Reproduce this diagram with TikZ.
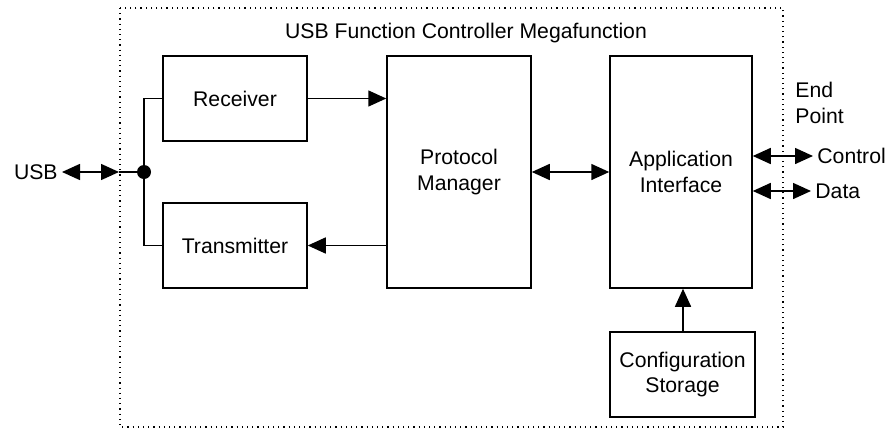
\documentclass[tikz,border=0pt]{standalone}
\usepackage{fontspec}
\setmainfont{Liberation Sans}
\usetikzlibrary{arrows.meta}
\begin{document}
\begin{tikzpicture}[x=0.5pt,y=-0.5pt,
  font=\fontsize{10.6}{12.6}\selectfont,
  blk/.style={draw,line width=0.75pt,align=center,inner sep=0pt},
  tip/.style={-{Triangle[length=9pt,width=8pt]}},
  dtip/.style={{Triangle[length=9pt,width=8pt]}-{Triangle[length=9pt,width=8pt]}},
  wire/.style={line width=0.75pt},
  lbl/.style={inner sep=2pt}]
\useasboundingbox (0,0) rectangle (892,439);
\draw[dotted,line width=0.6pt] (120,8) rectangle (783,427);
\node (title) at (466,33) {USB Function Controller Megafunction};
\node[blk,minimum width=72pt,minimum height=42.5pt] (rx) at (235,98.5) {Receiver};
\node[blk,minimum width=72pt,minimum height=42.5pt] (tx) at (235,245.5) {Transmitter};
\node[blk,minimum width=72pt,minimum height=116pt] (pm) at (459,172) {Protocol\\Manager};
\node[blk,minimum width=71pt,minimum height=116pt] (ai) at (681,172) {Application\\Interface};
\node[blk,minimum width=72.5pt,minimum height=42.5pt] (cs) at (682.5,374.5) {Configuration\\Storage};
\node[lbl,anchor=east] (usb) at (62,172) {USB};
\coordinate (usbtip) at (119,172);
\fill (144,172) circle (3.5pt) coordinate (junc);
\draw[wire,dtip] (usb.east) -- (usbtip);
\draw[wire] (usbtip) -- (junc);
\draw[wire] (rx.west) -| (junc) |- (tx.west);
\draw[wire,tip] (rx.east) -- (pm.west |- rx.east);
\draw[wire,tip] (pm.west |- tx.east) -- (tx.east);
\draw[wire,dtip] (pm.east) -- (ai.west);
\draw[wire,tip] (cs.north -| 683,0) -- (ai.south -| 683,0);
\node[anchor=west,align=left,inner sep=0pt] (ep) at (795,103) {End\\Point};
\node[lbl,anchor=west] (ctrl) at (813,156) {Control};
\node[lbl,anchor=west] (data) at (811,191) {Data};
\draw[wire,dtip] (ai.east |- ctrl.west) -- (ctrl.west);
\draw[wire,dtip] (ai.east |- data.west) -- (data.west);
\end{tikzpicture}
\end{document}
